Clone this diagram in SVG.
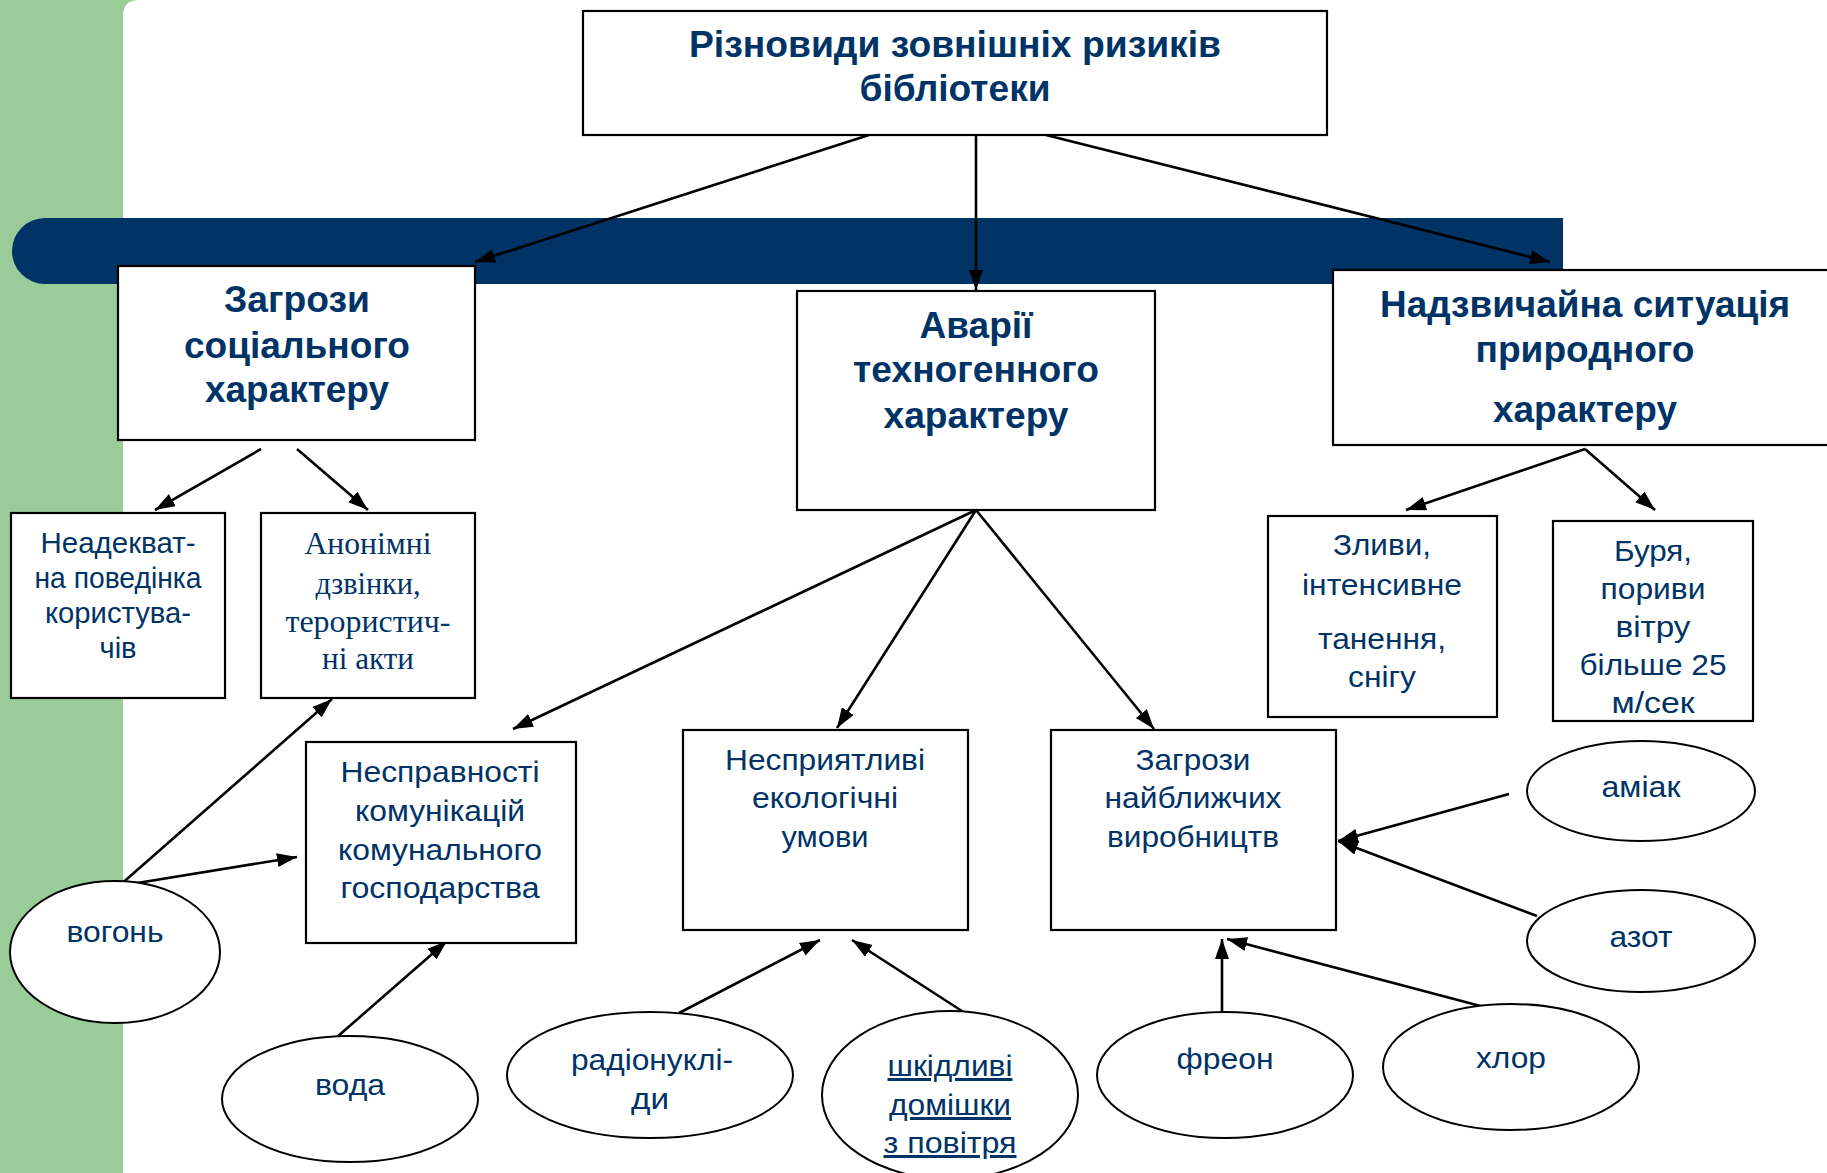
<svg xmlns="http://www.w3.org/2000/svg" width="1827" height="1173" viewBox="0 0 1827 1173">
<style>
.box{fill:#fff;stroke:#000;stroke-width:2.2}
.ell{fill:#fff;stroke:#000;stroke-width:2}
.con{fill:none;stroke:#000;stroke-width:2.6}
.h{font-family:"Liberation Sans",Arial,sans-serif;font-weight:bold;font-size:36px;fill:#003366;text-anchor:middle}
.t{font-family:"Liberation Sans",Arial,sans-serif;font-size:30px;fill:#003366;text-anchor:middle}
.s{font-family:"Liberation Serif","Times New Roman",serif;font-size:32px;fill:#003366;text-anchor:middle}
</style>
<defs>
<marker id="ah" markerUnits="userSpaceOnUse" markerWidth="22" markerHeight="16" refX="20" refY="7" orient="auto">
<path d="M0,0 L20,7 L0,14 Z" fill="#000"/>
</marker>
</defs>
<g id="background">
<rect x="0" y="0" width="1827" height="1173" fill="#99CC99"/>
<path d="M123,16 Q123,0 139,0 L1827,0 L1827,1173 L123,1173 Z" fill="#fff"/>
<path d="M45,218 L1563,218 L1563,284 L45,284 A33,33 0 0 1 45,218 Z" fill="#003366"/>
</g>
<g id="connectors">
<line class="con" x1="869" y1="135" x2="475" y2="262" marker-end="url(#ah)"/>
<line class="con" x1="976" y1="135" x2="976" y2="290" marker-end="url(#ah)"/>
<line class="con" x1="1046" y1="135" x2="1550" y2="262" marker-end="url(#ah)"/>
<line class="con" x1="261" y1="449" x2="155" y2="510" marker-end="url(#ah)"/>
<line class="con" x1="297" y1="449" x2="368" y2="510" marker-end="url(#ah)"/>
<line class="con" x1="1585" y1="449" x2="1406" y2="510" marker-end="url(#ah)"/>
<line class="con" x1="1585" y1="449" x2="1655" y2="510" marker-end="url(#ah)"/>
<line class="con" x1="976" y1="510" x2="513" y2="729" marker-end="url(#ah)"/>
<line class="con" x1="976" y1="510" x2="837" y2="728" marker-end="url(#ah)"/>
<line class="con" x1="976" y1="510" x2="1154" y2="729" marker-end="url(#ah)"/>
<line class="con" x1="119" y1="886" x2="332" y2="699" marker-end="url(#ah)"/>
<line class="con" x1="119" y1="886" x2="297" y2="857" marker-end="url(#ah)"/>
<line class="con" x1="337" y1="1037" x2="447" y2="941" marker-end="url(#ah)"/>
<line class="con" x1="679" y1="1013" x2="820" y2="940" marker-end="url(#ah)"/>
<line class="con" x1="965" y1="1013" x2="852" y2="940" marker-end="url(#ah)"/>
<line class="con" x1="1222" y1="1013" x2="1222" y2="939" marker-end="url(#ah)"/>
<line class="con" x1="1507" y1="1013" x2="1227" y2="939" marker-end="url(#ah)"/>
<line class="con" x1="1509" y1="794" x2="1338" y2="841" marker-end="url(#ah)"/>
<line class="con" x1="1537" y1="916" x2="1338" y2="841" marker-end="url(#ah)"/>
</g>
<g id="n-top">
<rect class="box" x="583" y="11" width="744" height="124"/>
<text class="h" x="955" y="57" textLength="532" lengthAdjust="spacingAndGlyphs">Різновиди зовнішніх ризиків</text>
<text class="h" x="955" y="101" textLength="191" lengthAdjust="spacingAndGlyphs">бібліотеки</text>
</g>
<g id="n-social">
<rect class="box" x="118" y="266" width="357" height="174"/>
<text class="h" x="297" y="312" textLength="146" lengthAdjust="spacingAndGlyphs">Загрози</text>
<text class="h" x="297" y="358" textLength="226" lengthAdjust="spacingAndGlyphs">соціального</text>
<text class="h" x="297" y="402" textLength="184" lengthAdjust="spacingAndGlyphs">характеру</text>
</g>
<g id="n-tech">
<rect class="box" x="797" y="291" width="358" height="219"/>
<text class="h" x="976" y="338" textLength="113" lengthAdjust="spacingAndGlyphs">Аварії</text>
<text class="h" x="976" y="382" textLength="246" lengthAdjust="spacingAndGlyphs">техногенного</text>
<text class="h" x="976" y="428" textLength="185" lengthAdjust="spacingAndGlyphs">характеру</text>
</g>
<g id="n-nature">
<rect class="box" x="1333" y="270" width="510" height="175"/>
<text class="h" x="1585" y="317" textLength="410" lengthAdjust="spacingAndGlyphs">Надзвичайна ситуація</text>
<text class="h" x="1585" y="362" textLength="219" lengthAdjust="spacingAndGlyphs">природного</text>
<text class="h" x="1585" y="422" textLength="184" lengthAdjust="spacingAndGlyphs">характеру</text>
</g>
<g id="n-behaviour">
<rect class="box" x="11" y="513" width="214" height="185"/>
<text class="t" x="118" y="553" textLength="155" lengthAdjust="spacingAndGlyphs">Неадекват-</text>
<text class="t" x="118" y="588" textLength="167" lengthAdjust="spacingAndGlyphs">на поведінка</text>
<text class="t" x="118" y="623" textLength="146" lengthAdjust="spacingAndGlyphs">користува-</text>
<text class="t" x="118" y="658" textLength="37" lengthAdjust="spacingAndGlyphs">чів</text>
</g>
<g id="n-anon">
<rect class="box" x="261" y="513" width="214" height="185"/>
<text class="s" x="368" y="554" textLength="127" lengthAdjust="spacingAndGlyphs">Анонімні</text>
<text class="s" x="368" y="594" textLength="105" lengthAdjust="spacingAndGlyphs">дзвінки,</text>
<text class="s" x="368" y="632" textLength="165" lengthAdjust="spacingAndGlyphs">терористич-</text>
<text class="s" x="368" y="669" textLength="92" lengthAdjust="spacingAndGlyphs">ні акти</text>
</g>
<g id="n-rain">
<rect class="box" x="1268" y="516" width="229" height="201"/>
<text class="t" x="1382" y="555" textLength="98" lengthAdjust="spacingAndGlyphs">Зливи,</text>
<text class="t" x="1382" y="595" textLength="160" lengthAdjust="spacingAndGlyphs">інтенсивне</text>
<text class="t" x="1382" y="649" textLength="128" lengthAdjust="spacingAndGlyphs">танення,</text>
<text class="t" x="1382" y="687" textLength="68" lengthAdjust="spacingAndGlyphs">снігу</text>
</g>
<g id="n-storm">
<rect class="box" x="1553" y="521" width="200" height="200"/>
<text class="t" x="1653" y="561" textLength="78" lengthAdjust="spacingAndGlyphs">Буря,</text>
<text class="t" x="1653" y="599" textLength="105" lengthAdjust="spacingAndGlyphs">пориви</text>
<text class="t" x="1653" y="637" textLength="75" lengthAdjust="spacingAndGlyphs">вітру</text>
<text class="t" x="1653" y="675" textLength="147" lengthAdjust="spacingAndGlyphs">більше 25</text>
<text class="t" x="1653" y="713" textLength="83" lengthAdjust="spacingAndGlyphs">м/сек</text>
</g>
<g id="n-utilities">
<rect class="box" x="306" y="742" width="270" height="201"/>
<text class="t" x="440" y="782" textLength="199" lengthAdjust="spacingAndGlyphs">Несправності</text>
<text class="t" x="440" y="821" textLength="170" lengthAdjust="spacingAndGlyphs">комунікацій</text>
<text class="t" x="440" y="860" textLength="204" lengthAdjust="spacingAndGlyphs">комунального</text>
<text class="t" x="440" y="898" textLength="199" lengthAdjust="spacingAndGlyphs">господарства</text>
</g>
<g id="n-ecology">
<rect class="box" x="683" y="730" width="285" height="200"/>
<text class="t" x="825" y="770" textLength="200" lengthAdjust="spacingAndGlyphs">Несприятливі</text>
<text class="t" x="825" y="808" textLength="146" lengthAdjust="spacingAndGlyphs">екологічні</text>
<text class="t" x="825" y="847" textLength="87" lengthAdjust="spacingAndGlyphs">умови</text>
</g>
<g id="n-industry">
<rect class="box" x="1051" y="730" width="285" height="200"/>
<text class="t" x="1193" y="770" textLength="115" lengthAdjust="spacingAndGlyphs">Загрози</text>
<text class="t" x="1193" y="808" textLength="177" lengthAdjust="spacingAndGlyphs">найближчих</text>
<text class="t" x="1193" y="847" textLength="172" lengthAdjust="spacingAndGlyphs">виробництв</text>
</g>
<g id="n-fire">
<ellipse class="ell" cx="115" cy="952" rx="105" ry="71"/>
<text class="t" x="115" y="942" textLength="97" lengthAdjust="spacingAndGlyphs">вогонь</text>
</g>
<g id="n-water">
<ellipse class="ell" cx="350" cy="1099" rx="128" ry="63"/>
<text class="t" x="350" y="1095" textLength="70" lengthAdjust="spacingAndGlyphs">вода</text>
</g>
<g id="n-radio">
<ellipse class="ell" cx="650" cy="1075" rx="143" ry="63"/>
<text class="t" x="652" y="1070" textLength="162" lengthAdjust="spacingAndGlyphs">радіонуклі-</text>
<text class="t" x="650" y="1109" textLength="38" lengthAdjust="spacingAndGlyphs">ди</text>
</g>
<g id="n-air">
<ellipse class="ell" cx="950" cy="1095" rx="128" ry="84"/>
<text class="t" x="950" y="1076" text-decoration="underline" textLength="125" lengthAdjust="spacingAndGlyphs">шкідливі</text>
<text class="t" x="950" y="1115" text-decoration="underline" textLength="122" lengthAdjust="spacingAndGlyphs">домішки</text>
<text class="t" x="950" y="1153" text-decoration="underline" textLength="133" lengthAdjust="spacingAndGlyphs">з повітря</text>
</g>
<g id="n-freon">
<ellipse class="ell" cx="1225" cy="1075" rx="128" ry="63"/>
<text class="t" x="1225" y="1069" textLength="97" lengthAdjust="spacingAndGlyphs">фреон</text>
</g>
<g id="n-chlorine">
<ellipse class="ell" cx="1511" cy="1067" rx="128" ry="63"/>
<text class="t" x="1511" y="1068" textLength="70" lengthAdjust="spacingAndGlyphs">хлор</text>
</g>
<g id="n-ammonia">
<ellipse class="ell" cx="1641" cy="791" rx="114" ry="50"/>
<text class="t" x="1641" y="797" textLength="79" lengthAdjust="spacingAndGlyphs">аміак</text>
</g>
<g id="n-nitrogen">
<ellipse class="ell" cx="1641" cy="941" rx="114" ry="51"/>
<text class="t" x="1641" y="947" textLength="63" lengthAdjust="spacingAndGlyphs">азот</text>
</g>
</svg>
